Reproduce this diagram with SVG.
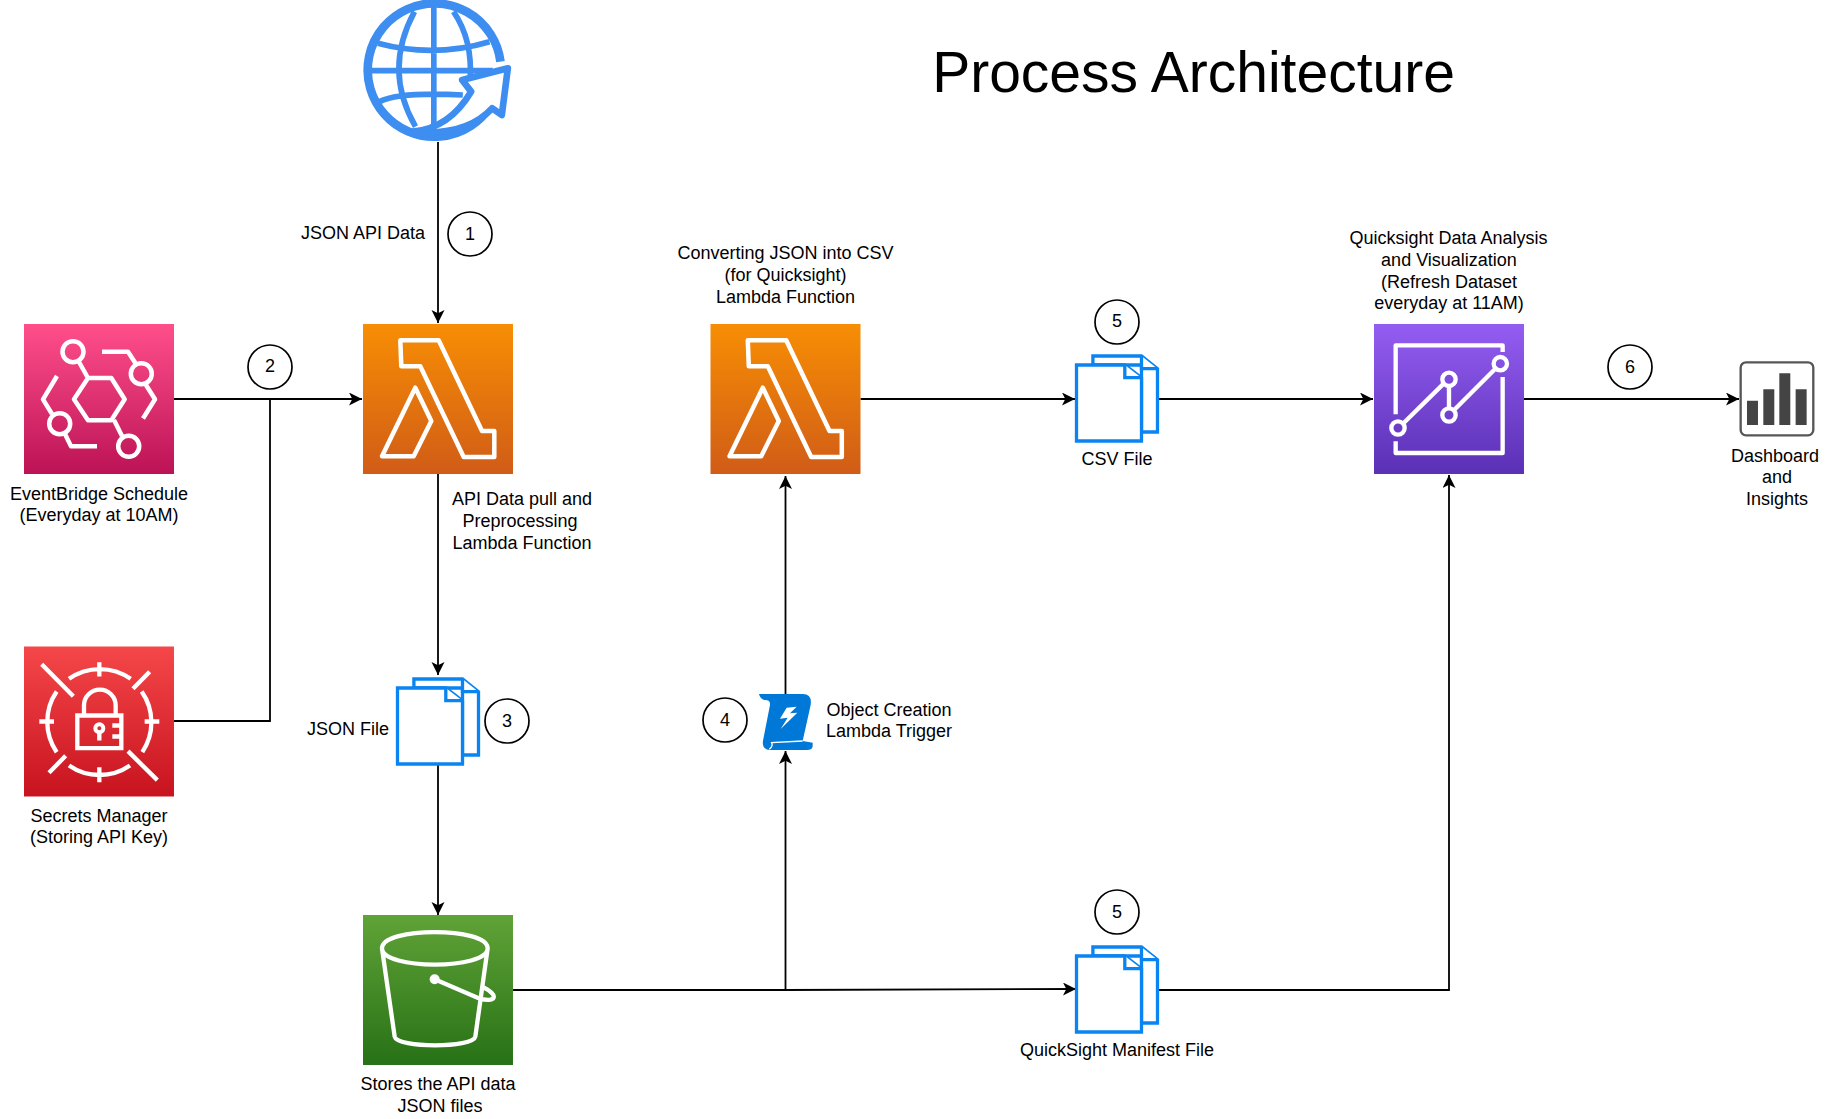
<svg xmlns="http://www.w3.org/2000/svg" width="1838" height="1119" viewBox="0 0 1838 1119">
<style>
text{font-family:"Liberation Sans",Arial,sans-serif;font-size:18px;fill:#000;text-anchor:middle}
.t{font-size:57px}
.c{fill:#fff;stroke:#000;stroke-width:1.7}
.l{fill:none;stroke:#000;stroke-width:1.8}
.w{fill:none;stroke:#fff;stroke-width:4.5;stroke-linejoin:round}
.f{fill:#fff;stroke:#0a84f0;stroke-width:3.3}
.g{fill:none;stroke:#3d8ef0;stroke-width:26}
.h{fill:none;stroke:#3d8ef0;stroke-width:17}
</style>
<defs>
<marker id="a" markerUnits="userSpaceOnUse" markerWidth="14" markerHeight="14" refX="13" refY="6.5" orient="auto"><path d="M13,6.5 L0,0 L3.3,6.5 L0,13Z" fill="#000"/></marker>
<linearGradient id="gE" x1="0" y1="0" x2="0" y2="1"><stop offset="0" stop-color="#ff4f8b"/><stop offset="1" stop-color="#bc1356"/></linearGradient>
<linearGradient id="gS" x1="0" y1="0" x2="0" y2="1"><stop offset="0" stop-color="#f54749"/><stop offset="1" stop-color="#c7131f"/></linearGradient>
<linearGradient id="gL" x1="0" y1="0" x2="0" y2="1"><stop offset="0" stop-color="#f78e04"/><stop offset="1" stop-color="#d05c17"/></linearGradient>
<linearGradient id="gB" x1="0" y1="0" x2="0" y2="1"><stop offset="0" stop-color="#60a337"/><stop offset="1" stop-color="#277116"/></linearGradient>
<linearGradient id="gQ" x1="0" y1="0" x2="0" y2="1"><stop offset="0" stop-color="#945df2"/><stop offset="1" stop-color="#5a30b5"/></linearGradient>
<g id="lam"><rect width="150" height="150" fill="url(#gL)"/><path class="w" d="M37.3,16.3H75.7L119,107H131.3V133H100.7L57.3,42.3H38.3ZM52.3,63.7L68.3,97L50.7,132.3H19Z"/></g>
<g id="file"><path class="f" d="M16.4,9V0H65L81,12.7V76H65V9Z"/><path class="f" d="M65,0V12.7H81"/><path class="f" d="M0,9H48.3L65,21.7V85H0Z"/><path class="f" d="M48.3,9V21.7H65"/></g>
</defs>
<g id="connectors">
<path class="l" d="M438,142V323" marker-end="url(#a)"/>
<path class="l" d="M174,399H362" marker-end="url(#a)"/>
<path class="l" d="M174,721H270V399"/>
<path class="l" d="M438,474V675" marker-end="url(#a)"/>
<path class="l" d="M438,764V915" marker-end="url(#a)"/>
<path class="l" d="M513,990H785.5L1076,989" marker-end="url(#a)"/>
<path class="l" d="M785.5,990V751" marker-end="url(#a)"/>
<path class="l" d="M785.5,695V476" marker-end="url(#a)"/>
<path class="l" d="M860.5,399H1075" marker-end="url(#a)"/>
<path class="l" d="M1158,399H1373" marker-end="url(#a)"/>
<path class="l" d="M1158,990H1449V475" marker-end="url(#a)"/>
<path class="l" d="M1524,399H1739" marker-end="url(#a)"/>
</g>
<g id="title"><text class="t" x="1193.5" y="92">Process Architecture</text></g>
<g id="globe" transform="translate(339.5,0) scale(.3333)">
<path class="g" d="M483,185A200,200 0 1 0 455,315"/>
<path class="h" d="M283,20V380M90,212H460M115,130Q283,175 450,125M120,305Q180,275 370,285M225,35Q130,210 228,380M342,35Q400,120 392,240"/>
<path d="M505,205L368,240L395,275Q330,385 220,395Q380,410 458,325L487,345Z" fill="#fff" stroke="#3d8ef0" stroke-width="20" stroke-linejoin="round"/>
</g>
<g id="eventbridge"><g transform="translate(24,324)"><rect width="150" height="150" fill="url(#gE)"/>
<path class="w" d="M64,54H87.3L100.7,75.3L87.3,96.3H64L50,75.3ZM55,38L64,54M90,96L98,112M78,27.7H104L112,40M122,61L131,75.3L119,94.5M33,52L19,75.3L28,90M41,110L47,122.3H73"/>
<circle class="w" cx="49" cy="27.7" r="10.5"/><circle class="w" cx="117.3" cy="49.7" r="10.5"/><circle class="w" cx="35.7" cy="99.7" r="10.5"/><circle class="w" cx="104.7" cy="122.3" r="10.5"/></g>
<text x="99" y="500">EventBridge Schedule</text><text x="99" y="521">(Everyday at 10AM)</text></g>
<g id="secrets"><g transform="translate(24,646.5) scale(.3333) translate(-70,-48)"><rect x="70" y="48" width="450" height="450" fill="url(#gS)"/>
<path fill="none" stroke="#fff" stroke-width="13" d="M205,145A161,161 0 0 1 390,145M423,183A161,161 0 0 1 425,365M205,405A161,161 0 0 0 388,405M168,183A161,161 0 0 0 168,365M296,95V138M296,410V455M116,273H160M432,273H476M123,101L218,197M447,124L397,175M195,376L145,427M382,362L470,449M230,255H362V353H230ZM250,255V225A47,47 0 0 1 345,225V255M296,305V330M335,285H362M335,318H362"/><circle cx="296" cy="293" r="12" fill="none" stroke="#fff" stroke-width="12"/></g>
<text x="99" y="822">Secrets Manager</text><text x="99" y="843">(Storing API Key)</text></g>
<g id="circles"><circle class="c" cx="470" cy="234" r="22"/><text x="470" y="240">1</text>
<circle class="c" cx="270" cy="367" r="22"/><text x="270" y="372">2</text>
<circle class="c" cx="507" cy="721" r="22"/><text x="507" y="727">3</text>
<circle class="c" cx="725" cy="720" r="22"/><text x="725" y="726">4</text>
<circle class="c" cx="1117" cy="322" r="22"/><text x="1117" y="327">5</text>
<circle class="c" cx="1117" cy="912" r="22"/><text x="1117" y="918">5</text>
<circle class="c" cx="1630" cy="367" r="22"/><text x="1630" y="373">6</text></g>
<g id="api-label"><text x="363" y="239">JSON API Data</text></g>
<g id="lambda1"><use href="#lam" x="363" y="324"/>
<text x="522" y="505">API Data pull and</text><text x="520" y="527">Preprocessing</text><text x="522" y="549">Lambda Function</text></g>
<g id="jsonfile"><use href="#file" x="397.5" y="679"/>
<text x="348" y="735">JSON File</text></g>
<g id="s3"><g transform="translate(363,915) scale(.3333) translate(-38,-45)"><rect x="38" y="45" width="450" height="450" fill="url(#gB)"/>
<path fill="none" stroke="#fff" stroke-width="13" d="M95,145C95,80 412,80 412,145C412,210 95,210 95,145L133,410C140,445 368,445 375,410L412,145M253,238L385,295C440,310 445,285 400,262"/><circle cx="253" cy="238" r="15" fill="#fff"/></g>
<text x="438" y="1090">Stores the API data</text><text x="440" y="1112">JSON files</text></g>
<g id="lambda2"><use href="#lam" x="710.5" y="324"/>
<text x="785.5" y="258.5">Converting JSON into CSV</text><text x="785.5" y="281">(for Quicksight)</text><text x="785.5" y="303">Lambda Function</text></g>
<g id="trigger"><g transform="translate(690,670) scale(.3333)"><path fill="#0078d7" d="M207,72H335Q367,70 362,105L338,213L368,218V228Q368,240 350,240H240Q215,238 219,212L240,105Q242,88 222,90Q210,85 207,72Z"/><path fill="none" stroke="#fff" stroke-width="4" d="M238,238Q250,228 245,218L338,213"/><path fill="#fff" d="M320,110L290,113L270,146L293,143L272,177L322,128L300,130Z"/></g>
<text x="889" y="715.5">Object Creation</text><text x="889" y="737">Lambda Trigger</text></g>
<g id="csvfile"><use href="#file" x="1076.5" y="356"/>
<text x="1117" y="465">CSV File</text></g>
<g id="manifest"><use href="#file" x="1076.5" y="947"/>
<text x="1117" y="1056">QuickSight Manifest File</text></g>
<g id="quicksight"><g transform="translate(1374,324) scale(.3333) translate(-41,-41)"><rect x="41" y="41" width="450" height="450" fill="url(#gQ)"/>
<path fill="none" stroke="#fff" stroke-width="13" stroke-linejoin="round" d="M106,312V105H427V125M427,200V428H106V393M130,338L250,220M266,225V295M282,298L405,175"/>
<g fill="none" stroke="#fff" stroke-width="13"><circle cx="113" cy="353" r="20"/><circle cx="266" cy="207" r="20"/><circle cx="266" cy="314" r="20"/><circle cx="420" cy="160" r="20"/></g></g>
<text x="1448.5" y="244">Quicksight Data Analysis</text><text x="1449" y="266">and Visualization</text><text x="1449" y="288">(Refresh Dataset</text><text x="1449" y="309">everyday at 11AM)</text></g>
<g id="dashboard"><g transform="translate(1600,330) scale(.3333)"><rect x="422" y="97" width="218" height="219" rx="16" fill="#fff" stroke="#565656" stroke-width="7"/><path fill="#444" d="M441,212h33v73h-33zM490,178h33v107h-33zM538,130h33v155h-33zM587,178h33v107h-33z"/></g>
<text x="1775" y="462">Dashboard</text><text x="1777" y="483">and</text><text x="1777" y="505">Insights</text></g>
</svg>
